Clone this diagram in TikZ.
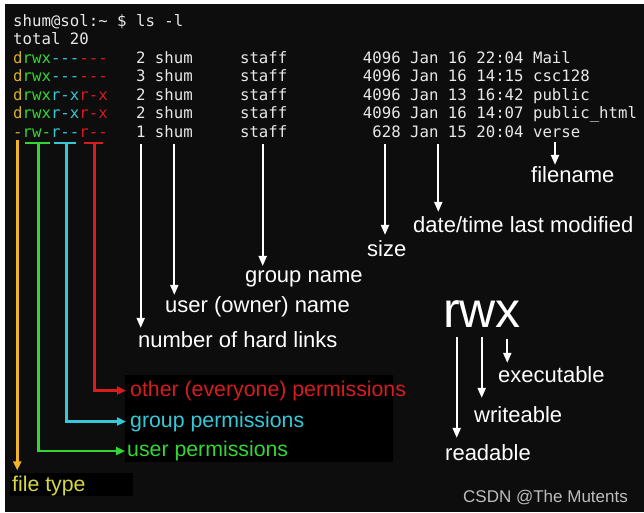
\documentclass[tikz,border=0pt]{standalone}
\usepackage{fontspec}
\setmainfont{Liberation Sans}
\setmonofont{DejaVu Sans Mono}
\usetikzlibrary{arrows.meta}
\definecolor{bg}{HTML}{0D0D0D}
\definecolor{termc}{HTML}{E8E8E8}
\definecolor{ftc}{HTML}{D4B028}
\definecolor{upc}{HTML}{34D634}
\definecolor{gpc}{HTML}{34C8D8}
\definecolor{opc}{HTML}{D81C1C}
\definecolor{ytl}{HTML}{F0B428}
\definecolor{ftlab}{HTML}{D6D640}
\definecolor{wmc}{HTML}{BDBDBD}
\newcommand\permrow[4]{\textcolor{ftc}{#1}\textcolor{upc}{#2}\textcolor{gpc}{#3}\textcolor{opc}{#4}}
\begin{document}
\begin{tikzpicture}[x=1pt,y=-1pt,
  termrow/.style={anchor=base west, inner sep=0pt, text=termc, font=\ttfamily\fontsize{15.7}{18}\selectfont\frenchspacing},
  lab/.style={anchor=base west, inner sep=0pt, text=white, font=\fontsize{22}{24}\selectfont},
  clab/.style={anchor=base west, inner sep=0pt, font=\fontsize{21.3}{24}\selectfont},
  warr/.style={draw=white, line width=2pt, -{Triangle[width=8pt,length=10pt]}},
  carr/.style={line width=2.5pt, -{Triangle[width=8pt,length=9pt]}},
  tbar/.style={line width=2.5pt}]
\useasboundingbox (0,0) rectangle (644,512);
\fill[white] (0,0) rectangle (644,512);
\fill[bg] (5,4) rectangle (644,512);
\fill[black] (125,375) rectangle (393,462);
\fill[black] (10,473) rectangle (133,496);

% terminal listing
\node[termrow] (r0) at (13,26) {shum@sol:\textasciitilde~\$~ls~-l};
\node[termrow] (r1) at (13,44.5) {total~20};
\node[termrow] (r2) at (13,63) {\permrow{d}{rwx}{---}{---}~~~2~shum~~~~~staff~~~~~~~~4096~Jan~16~22:04~Mail};
\node[termrow] (r3) at (13,81.5) {\permrow{d}{rwx}{---}{---}~~~3~shum~~~~~staff~~~~~~~~4096~Jan~16~14:15~csc128};
\node[termrow] (r4) at (13,100) {\permrow{d}{rwx}{r-x}{r-x}~~~2~shum~~~~~staff~~~~~~~~4096~Jan~13~16:42~public};
\node[termrow] (r5) at (13,118.5) {\permrow{d}{rwx}{r-x}{r-x}~~~2~shum~~~~~staff~~~~~~~~4096~Jan~16~14:07~public\_html};
\node[termrow] (r6) at (13,137) {\permrow{-}{rw-}{r--}{r--}~~~1~shum~~~~~staff~~~~~~~~~628~Jan~15~20:04~verse};

% white labels
\node[lab] (fn) at (531,182) {filename};
\node[lab] (dt) at (413,232) {date/time last modified};
\node[lab] (sz) at (367,256) {size};
\node[lab] (gn) at (245,282) {group name};
\node[lab] (un) at (165,312) {user (owner) name};
\node[lab] (hl) at (138,347) {number of hard links};

\coordinate (chl) at (140.7,144);
\coordinate (cun) at (174.3,144);
\coordinate (cgn) at (262.7,144);
\coordinate (csz) at (385,144);
\coordinate (cdt) at (438.3,144);
\coordinate (cfn) at (555,142);
\draw[warr, shorten >=3pt] (chl) -- (chl |- hl.north);
\draw[warr, shorten >=1pt] (cun) -- (cun |- un.north);
\draw[warr, shorten >=4pt] (cgn) -- (cgn |- gn.north);
\draw[warr, shorten >=5pt] (csz) -- (csz |- sz.north);
\draw[warr, shorten >=4pt] (cdt) -- (cdt |- dt.north);
\draw[warr, shorten >=1pt] (cfn) -- (cfn |- fn.north);

% rwx legend
\node[anchor=base west, inner sep=0pt, text=white, font=\fontsize{50}{52}\selectfont] (rwx) at (443,327) {rwx};
\node[lab] (ex) at (498,382) {executable};
\node[lab] (wr) at (474,422) {writeable};
\node[lab] (rd) at (445,460) {readable};
\coordinate (crd) at (456.7,337);
\coordinate (cwr) at (481.7,337);
\coordinate (cex) at (507.3,339);
\draw[warr, shorten >=6pt] (crd) -- (crd |- rd.north);
\draw[warr, shorten >=8pt] (cwr) -- (cwr |- wr.north);
\draw[warr, shorten >=3pt] (cex) -- (cex |- ex.north);

% permission brackets
\draw[tbar, draw=upc] (25,143) -- (50,143);
\draw[tbar, draw=gpc] (54,143) -- (76,143);
\draw[tbar, draw=opc] (84,143) -- (103,143);
\coordinate (cft) at (17.3,140);
\coordinate (cup) at (38.3,143);
\coordinate (cgp) at (66.7,143);
\coordinate (cop) at (94.3,143);

\node[clab, text=opc] (op) at (130,396) {other (everyone) permissions};
\node[clab, text=gpc] (gp) at (130,427) {group permissions};
\node[clab, text=upc] (up) at (127,456.5) {user permissions};
\node[clab, text=ftlab] (ft) at (12,491) {file type};

\draw[carr, draw=opc, shorten >=4pt] (cop) |- (op.west);
\draw[carr, draw=gpc, shorten >=4pt] (cgp) |- (gp.west);
\draw[carr, draw=upc, shorten >=2pt] (cup) |- (up.west);
\draw[carr, draw=ytl, shorten >=5pt] (cft) -- (cft |- ft.north);

\node[anchor=base west, inner sep=0pt, text=wmc, font=\fontsize{17}{19}\selectfont] (wm) at (463,502) {CSDN @The Mutents};
\end{tikzpicture}
\end{document}
